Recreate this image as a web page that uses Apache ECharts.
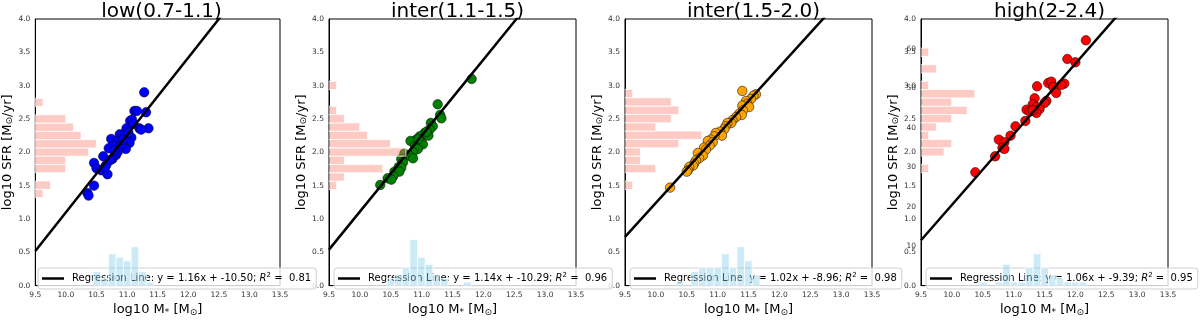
<!DOCTYPE html>
<html>
<head>
<meta charset="utf-8">
<script src="https://cdn.jsdelivr.net/npm/echarts@6/dist/echarts.min.js"></script>
<style>
html,body{margin:0;padding:0;background:#fff;}
#chart{width:1200px;height:322px;}
</style>
</head>
<body>
<div id="chart"></div>
<script>
// ---------- data ----------
const panelTitles = ['low(0.7-1.1)', 'inter(1.1-1.5)', 'inter(1.5-2.0)', 'high(2-2.4)'];
const pointColors = ['#0000ff', '#008000', '#ffa500', '#ff0000'];

const lowMass = [11.28, 11.12, 11.16, 11.31, 11.05, 11.08, 11.20, 11.35, 11.23, 10.99, 10.88, 10.93, 11.07, 10.74, 10.85, 11.04, 10.77, 10.70, 10.96, 10.98, 10.82, 10.61, 10.76, 10.46, 10.66, 10.80, 10.50, 10.58, 10.68, 10.46, 10.35, 10.37, 11.02, 10.90, 10.72, 10.64, 11.10, 10.85, 10.93, 10.79];
const lowSfr  = [2.90, 2.62, 2.62, 2.60, 2.47, 2.49, 2.36, 2.36, 2.34, 2.36, 2.27, 2.25, 2.22, 2.20, 2.17, 2.14, 2.10, 2.06, 2.08, 2.05, 1.96, 1.94, 1.90, 1.84, 1.81, 1.97, 1.76, 1.73, 1.67, 1.50, 1.39, 1.35, 2.30, 2.12, 1.88, 1.78, 2.43, 2.01, 2.19, 2.03];

const inter1Mass = [11.81, 11.26, 11.30, 11.32, 11.15, 11.18, 11.13, 11.05, 10.97, 11.11, 10.91, 10.82, 11.00, 11.02, 10.89, 10.94, 10.86, 10.72, 10.80, 10.86, 10.67, 10.70, 10.63, 10.67, 10.56, 10.64, 10.54, 10.45, 10.51, 10.33, 10.95, 11.08];
const inter1Sfr  = [3.10, 2.72, 2.56, 2.51, 2.44, 2.39, 2.34, 2.29, 2.24, 2.25, 2.19, 2.17, 2.15, 2.12, 2.10, 2.05, 2.00, 1.98, 1.95, 1.91, 1.90, 1.85, 1.78, 1.77, 1.71, 1.71, 1.64, 1.61, 1.59, 1.51, 2.20, 2.31];

const inter2Mass = [11.40, 11.62, 11.58, 11.54, 11.46, 11.48, 11.40, 11.51, 11.41, 11.35, 11.39, 11.30, 11.24, 11.22, 11.16, 11.13, 11.11, 11.04, 10.97, 11.07, 10.95, 10.89, 10.84, 10.92, 10.87, 10.78, 10.81, 10.68, 10.76, 10.70, 10.65, 10.62, 10.60, 10.54, 10.52, 10.50, 10.23];
const inter2Sfr  = [2.92, 2.87, 2.85, 2.80, 2.77, 2.73, 2.70, 2.68, 2.63, 2.58, 2.56, 2.53, 2.48, 2.44, 2.44, 2.39, 2.35, 2.31, 2.29, 2.25, 2.24, 2.19, 2.17, 2.15, 2.10, 2.07, 2.04, 1.99, 1.95, 1.91, 1.88, 1.83, 1.80, 1.78, 1.73, 1.71, 1.47];

const highMass = [12.17, 11.87, 12.00, 11.56, 11.61, 11.82, 11.77, 11.38, 11.64, 11.69, 11.34, 11.53, 11.50, 11.31, 11.37, 11.21, 11.42, 11.26, 11.37, 11.31, 11.19, 11.03, 10.95, 10.76, 10.85, 10.82, 10.85, 10.70, 10.38];
const highSfr  = [3.68, 3.40, 3.35, 3.04, 3.06, 3.03, 3.01, 2.99, 2.98, 2.89, 2.81, 2.77, 2.74, 2.72, 2.68, 2.64, 2.65, 2.61, 2.59, 2.63, 2.47, 2.39, 2.25, 2.19, 2.15, 2.07, 2.05, 1.94, 1.70];

const slopes = [1.16, 1.14, 1.02, 1.06];
const intercepts = [-10.50, -10.29, -8.96, -9.39];
const rSquared = [0.81, 0.96, 0.98, 0.95];

// SFR histograms (horizontal, red): first bin edge, bin width, counts bottom->top
const sfrHistStart = [1.320, 1.443, 1.443, 1.695];
const sfrHistStep  = [0.1243, 0.1248, 0.1251, 0.1246];
const lowSfrCounts    = [1, 2, 0, 4, 4, 7, 8, 6, 5, 4, 0, 1];
const inter1SfrCounts = [1, 2, 7, 2, 10, 8, 5, 4, 2, 1, 0, 0, 1];
const inter2SfrCounts = [1, 0, 4, 2, 2, 7, 10, 4, 6, 7, 6, 1];
const highSfrCounts   = [1, 0, 3, 4, 1, 2, 4, 6, 4, 7, 1, 0, 2, 0, 1];

// Mass histograms (vertical, blue)
const massHistStart = [10.446, 10.438, 10.320, 10.450];
const massHistStep  = [0.124, 0.124, 0.124, 0.124];
const lowMassCounts    = [4, 2, 9, 8, 7, 11, 4, 1];
const inter1MassCounts = [2, 3, 5, 13, 8, 6, 3, 2, 0, 0, 1];
const inter2MassCounts = [1, 0, 4, 5, 5, 5, 9, 5, 11, 7, 3];
const highMassCounts   = [1, 0, 1, 6, 1, 1, 5, 9, 5, 3, 2, 1, 1, 1];

// secondary axis tick labels shown on the last panel
const highTwinTicks = [10, 20, 30, 40, 50, 60];

const massTicksMin = 9.5, massTicksMax = 13.5, sfrMin = 0, sfrMax = 4.0;

// ---------- build ----------
const masses = [lowMass, inter1Mass, inter2Mass, highMass];
const sfrs = [lowSfr, inter1Sfr, inter2Sfr, highSfr];
const sfrCounts = [lowSfrCounts, inter1SfrCounts, inter2SfrCounts, highSfrCounts];
const massCounts = [lowMassCounts, inter1MassCounts, inter2MassCounts, highMassCounts];

const gridLefts = [33, 329, 625, 921];
const gridW = 247, gridTop = 19, gridH = 275;
const FONT = 'DejaVu Sans';
const TICK_FS = 7.5;

const grids = [], xAxes = [], yAxes = [], series = [], titles = [], legends = [];

const nameRich = {
  n: {fontSize: 13, fontFamily: FONT, color: '#000'},
  sub: {fontSize: 9, fontFamily: FONT, color: '#000', padding: [5, 0, 0, 0]}
};

for (let i = 0; i < 4; i++) {
  grids.push({left: gridLefts[i], top: gridTop, width: gridW, height: gridH,
    show: true, borderColor: '#000', borderWidth: 1, backgroundColor: 'transparent'});
  titles.push({text: panelTitles[i], left: gridLefts[i] + gridW / 2, top: -3, textAlign: 'center',
    textStyle: {fontSize: 20, fontWeight: 'normal', fontFamily: FONT, color: '#000'}});

  const xMainIdx = xAxes.length;
  xAxes.push({type: 'value', gridIndex: i, min: massTicksMin, max: massTicksMax, interval: 0.5,
    name: '{n|log10 M}{sub|*}{n| [M}{sub|⊙}{n|]}', nameLocation: 'middle', nameGap: 12,
    nameTextStyle: {rich: nameRich},
    axisLine: {show: true, onZero: false, lineStyle: {color: '#000', width: 1}},
    axisTick: {show: false}, splitLine: {show: false},
    axisLabel: {fontSize: TICK_FS, fontFamily: FONT, color: '#333', margin: 5, formatter: v => v.toFixed(1)}});
  const xCountIdx = xAxes.length;
  xAxes.push({type: 'value', gridIndex: i, min: 0, max: 32.1, show: false});

  const yMainIdx = yAxes.length;
  yAxes.push({type: 'value', gridIndex: i, min: sfrMin, max: sfrMax, interval: 0.5,
    name: '{n|log10 SFR [M}{sub|⊙}{n|/yr]}', nameLocation: 'middle', nameGap: 19,
    nameTextStyle: {rich: nameRich},
    axisLine: {show: true, onZero: false, lineStyle: {color: '#000', width: 1}},
    axisTick: {show: false}, splitLine: {show: false},
    axisLabel: {fontSize: TICK_FS, fontFamily: FONT, color: '#333', margin: 5, formatter: v => v.toFixed(1)}});
  const yCountIdx = yAxes.length;
  yAxes.push({type: 'value', gridIndex: i, min: 0, max: 75.3, show: false});

  if (i === 3) {
    yAxes.push({type: 'value', gridIndex: i, position: 'left', min: 0, max: 67.6, interval: 10,
      axisLine: {show: false}, axisTick: {show: false}, splitLine: {show: false},
      axisLabel: {fontSize: TICK_FS, fontFamily: FONT, color: '#333', margin: 5, showMinLabel: false, showMaxLabel: false,
        formatter: v => (highTwinTicks.indexOf(v) >= 0 ? String(v) : '')}});
  }

  // scatter
  series.push({type: 'scatter', name: 'pts' + i, xAxisIndex: xMainIdx, yAxisIndex: yMainIdx,
    data: masses[i].map((m, k) => [m, sfrs[i][k]]), symbolSize: 9.5, z: 2,
    itemStyle: {color: pointColors[i], borderColor: 'rgba(0,0,0,0.75)', borderWidth: 0.7, opacity: 1}});

  // regression line
  const lx = [massTicksMin, massTicksMax];
  series.push({type: 'line', name: 'reg' + i, xAxisIndex: xMainIdx, yAxisIndex: yMainIdx,
    data: lx.map(x => [x, slopes[i] * x + intercepts[i]]), symbol: 'none', clip: true, z: 3,
    lineStyle: {color: '#000', width: 2.5}, itemStyle: {color: '#000'}});

  // SFR histogram (red, horizontal)
  const sData = [];
  sfrCounts[i].forEach((c, k) => { if (c > 0) sData.push([sfrHistStart[i] + k * sfrHistStep[i], sfrHistStart[i] + (k + 1) * sfrHistStep[i], c]); });
  series.push({type: 'custom', name: 'sfrHist' + i, xAxisIndex: xCountIdx, yAxisIndex: yMainIdx, z: 6,
    encode: {x: 2, y: [0, 1]}, data: sData, clip: true,
    renderItem: function (params, api) {
      const p0 = api.coord([0, api.value(0)]);
      const p1 = api.coord([api.value(2), api.value(1)]);
      return {type: 'rect', shape: {x: p0[0], y: p1[1], width: p1[0] - p0[0], height: p0[1] - p1[1]},
        style: {fill: 'rgba(250,128,114,0.42)', stroke: '#ffffff', lineWidth: 0.8}};
    }});

  // mass histogram (blue, vertical)
  const mData = [];
  massCounts[i].forEach((c, k) => { if (c > 0) mData.push([massHistStart[i] + k * massHistStep[i], massHistStart[i] + (k + 1) * massHistStep[i], c]); });
  series.push({type: 'custom', name: 'massHist' + i, xAxisIndex: xMainIdx, yAxisIndex: yCountIdx, z: 6,
    encode: {x: [0, 1], y: 2}, data: mData, clip: true,
    renderItem: function (params, api) {
      const p0 = api.coord([api.value(0), 0]);
      const p1 = api.coord([api.value(1), api.value(2)]);
      return {type: 'rect', shape: {x: p0[0], y: p1[1], width: p1[0] - p0[0], height: p0[1] - p1[1]},
        style: {fill: 'rgba(135,206,235,0.42)', stroke: '#ffffff', lineWidth: 0.8}};
    }});

  legends.push({data: ['reg' + i], left: gridLefts[i] + 5, bottom: 33, orient: 'horizontal',
    selectedMode: false, icon: 'rect', itemWidth: 22, itemHeight: 2.5,
    backgroundColor: 'rgba(255,255,255,0.8)', borderColor: '#d0d0d0', borderWidth: 1, borderRadius: 3,
    padding: [4, 5, 4, 4], z: 4,
    formatter: function () {
      return '{a|Regression Line: y = ' + slopes[i].toFixed(2) + 'x + ' + intercepts[i].toFixed(2) + '; }{i|R}{s|2}{a| =  ' + rSquared[i].toFixed(2) + '}';
    },
    textStyle: {fontFamily: FONT, fontSize: 10, color: '#000', padding: [0, 0, 0, 3], lineHeight: 13,
      rich: {
        a: {fontFamily: FONT, fontSize: 10, color: '#000'},
        i: {fontFamily: FONT, fontSize: 10, fontStyle: 'italic', color: '#000'},
        s: {fontFamily: FONT, fontSize: 7, color: '#000', padding: [0, 0, 6, 0]}
      }}});
}

const chart = echarts.init(document.getElementById('chart'), null, {renderer: 'canvas'});
chart.setOption({
  animation: false,
  backgroundColor: '#fff',
  title: titles,
  grid: grids,
  xAxis: xAxes,
  yAxis: yAxes,
  legend: legends,
  series: series
});
</script>
</body>
</html>
